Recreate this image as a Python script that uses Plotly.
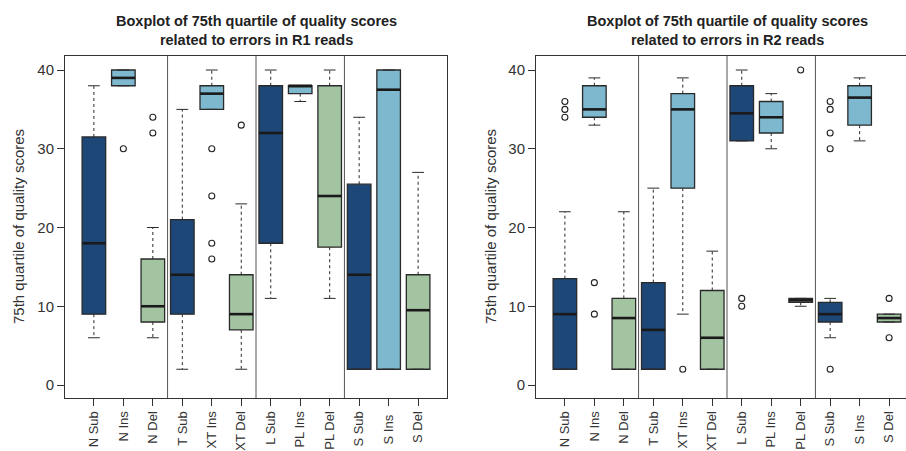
import plotly.graph_objects as go

# ---------------- data ----------------
categories = ["N Sub", "N Ins", "N Del", "T Sub", "XT Ins", "XT Del",
              "L Sub", "PL Ins", "PL Del", "S Sub", "S Ins\u00a0", "S Del"]
positions = list(range(1, 13))
kinds = ["Sub", "Ins", "Del"] * 4

# R1 reads
r1_lower = [6, 38, 6, 2, 35, 2, 11, 36, 11, 2, 2, 2]
r1_q1 = [9, 38, 8, 9, 35, 7, 18, 37, 17.5, 2, 2, 2]
r1_med = [18, 39, 10, 14, 37, 9, 32, 38, 24, 14, 37.5, 9.5]
r1_q3 = [31.5, 40, 16, 21, 38, 14, 38, 38, 38, 25.5, 40, 14]
r1_upper = [38, 40, 20, 35, 40, 23, 40, 38, 40, 34, 40, 27]
r1_outliers = [[], [30], [34, 32], [], [30, 24, 18, 16], [33],
               [], [], [], [], [], []]

# R2 reads
r2_lower = [2, 33, 2, 2, 9, 2, 31, 30, 10, 6, 31, 8]
r2_q1 = [2, 34, 2, 2, 25, 2, 31, 32, 10.5, 8, 33, 8]
r2_med = [9, 35, 8.5, 7, 35, 6, 34.5, 34, 10.75, 9, 36.5, 8.5]
r2_q3 = [13.5, 38, 11, 13, 37, 12, 38, 36, 11, 10.5, 38, 9]
r2_upper = [22, 39, 22, 25, 39, 17, 40, 37, 11, 11, 39, 9]
r2_outliers = [[36, 35, 34], [13, 9], [], [], [2], [],
               [11, 10], [], [40], [36, 35, 32, 30, 2], [], [11, 6]]

y_ticks = [0, 10, 20, 30, 40]
titles = ["Boxplot of 75th quartile of quality scores<br>related to errors in R1 reads",
          "Boxplot of 75th quartile of quality scores<br>related to errors in R2 reads"]
y_title = "75th quartile of quality scores"
separators = [3.5, 6.5, 9.5]

# ---------------- styles ----------------
colors = {"Sub": "#1d4777", "Ins": "#7db8cf", "Del": "#a3c4a1"}
FONT = "Liberation Sans, Arial, Helvetica, sans-serif"
W, H = 906, 451
BOX_W = 0.8
STAPLE = 0.2

fig = go.Figure()

panels = [
    dict(lower=r1_lower, q1=r1_q1, med=r1_med, q3=r1_q3, upper=r1_upper,
         out=r1_outliers, xa="x", ya="y"),
    dict(lower=r2_lower, q1=r2_q1, med=r2_med, q3=r2_q3, upper=r2_upper,
         out=r2_outliers, xa="x2", ya="y2"),
]

for p in panels:
    # boxes
    for kind in ["Sub", "Ins", "Del"]:
        idx = [i for i, k in enumerate(kinds) if k == kind]
        fig.add_trace(go.Box(
            x=[positions[i] for i in idx],
            q1=[p["q1"][i] for i in idx],
            median=[p["med"][i] for i in idx],
            q3=[p["q3"][i] for i in idx],
            lowerfence=[p["q1"][i] for i in idx],
            upperfence=[p["q3"][i] for i in idx],
            width=BOX_W, whiskerwidth=0,
            fillcolor=colors[kind],
            line=dict(color="#2a2a2a", width=1.3),
            boxpoints=False, hoverinfo="skip", showlegend=False,
            xaxis=p["xa"], yaxis=p["ya"]))
    # whiskers (dashed)
    wx, wy = [], []
    for i, pos in enumerate(positions):
        if p["upper"][i] > p["q3"][i]:
            wx += [pos, pos, None]
            wy += [p["q3"][i], p["upper"][i], None]
        if p["lower"][i] < p["q1"][i]:
            wx += [pos, pos, None]
            wy += [p["q1"][i], p["lower"][i], None]
    fig.add_trace(go.Scatter(x=wx, y=wy, mode="lines",
                             line=dict(color="#2a2a2a", width=1, dash="3px,3px"),
                             hoverinfo="skip", showlegend=False,
                             xaxis=p["xa"], yaxis=p["ya"]))
    # staples
    sx, sy = [], []
    for i, pos in enumerate(positions):
        for v in (p["upper"][i], p["lower"][i]):
            sx += [pos - STAPLE, pos + STAPLE, None]
            sy += [v, v, None]
    fig.add_trace(go.Scatter(x=sx, y=sy, mode="lines",
                             line=dict(color="#2a2a2a", width=1),
                             hoverinfo="skip", showlegend=False,
                             xaxis=p["xa"], yaxis=p["ya"]))
    # medians
    mx, my = [], []
    for i, pos in enumerate(positions):
        mx += [pos - BOX_W / 2, pos + BOX_W / 2, None]
        my += [p["med"][i], p["med"][i], None]
    fig.add_trace(go.Scatter(x=mx, y=my, mode="lines",
                             line=dict(color="#1a1a1a", width=2.6),
                             hoverinfo="skip", showlegend=False,
                             xaxis=p["xa"], yaxis=p["ya"]))
    # outliers
    ox, oy = [], []
    for i, pos in enumerate(positions):
        for v in p["out"][i]:
            ox.append(pos)
            oy.append(v)
    fig.add_trace(go.Scatter(x=ox, y=oy, mode="markers",
                             marker=dict(symbol="circle-open", size=6,
                                         color="#222", line=dict(width=1.1)),
                             hoverinfo="skip", showlegend=False,
                             xaxis=p["xa"], yaxis=p["ya"]))
    # separators
    for s in separators:
        fig.add_shape(type="line", x0=s, x1=s, y0=0, y1=1,
                      xref=p["xa"], yref=p["ya"] + " domain",
                      line=dict(color="#555", width=1))

px_per_unit = 382 / 12.96
left_dom = [65 / W, 447 / W]
right_dom = [536 / W, 1.0]
right_max = 0.02 + 370 / px_per_unit
y_dom = [1 - 398 / H, 1 - 56 / H]

axis_common = dict(showgrid=False, zeroline=False, showline=True,
                   linecolor="#333", linewidth=1, ticks="outside",
                   ticklen=7, tickcolor="#333")
ytick_font = dict(family=FONT, size=15, color="#333")
xtick_font = dict(family=FONT, size=13, color="#333")

fig.update_layout(
    width=W, height=H,
    margin=dict(l=0, r=0, t=0, b=0),
    plot_bgcolor="white", paper_bgcolor="white",
    showlegend=False,
    xaxis=dict(domain=left_dom, range=[0.02, 12.98], tickvals=positions,
               ticktext=categories, tickangle=-90, mirror=True,
               tickfont=xtick_font, anchor="y", **axis_common),
    yaxis=dict(domain=y_dom, range=[-1.65, 41.78], tickvals=y_ticks,
               mirror=True, tickfont=ytick_font, anchor="x", **axis_common),
    xaxis2=dict(domain=right_dom, range=[0.02, right_max], tickvals=positions,
                ticktext=categories, tickangle=-90, mirror=True,
                tickfont=xtick_font, anchor="y2", **axis_common),
    yaxis2=dict(domain=y_dom, range=[-1.65, 41.78], tickvals=y_ticks,
                mirror=False, tickfont=ytick_font, anchor="x2", **axis_common),
)

# titles
for cx, t in zip([256 / W, 727 / W], titles):
    fig.add_annotation(text="<b>" + t + "</b>", x=cx, y=1 - 30.5 / H,
                       xref="paper", yref="paper", xanchor="center",
                       yanchor="middle", showarrow=False,
                       font=dict(family=FONT, size=14.5, color="#222"))
# y-axis titles
for tx, ya in zip([18 / W, 490 / W], ["y", "y2"]):
    fig.add_annotation(text=y_title, x=tx, y=0.5, xref="paper",
                       yref=ya + " domain", textangle=-90,
                       xanchor="center", yanchor="middle", showarrow=False,
                       font=dict(family=FONT, size=15, color="#333"))

fig.write_html(
    "out.html",
    config={"displayModeBar": False},
    post_script=(
        "document.body.style.margin='0';"
        "document.body.style.overflow='hidden';"
        "document.documentElement.style.overflow='hidden';"
        "var gd=document.getElementById('{plot_id}');"
        "if(gd){gd.style.overflow='hidden';}"
    ),
)
